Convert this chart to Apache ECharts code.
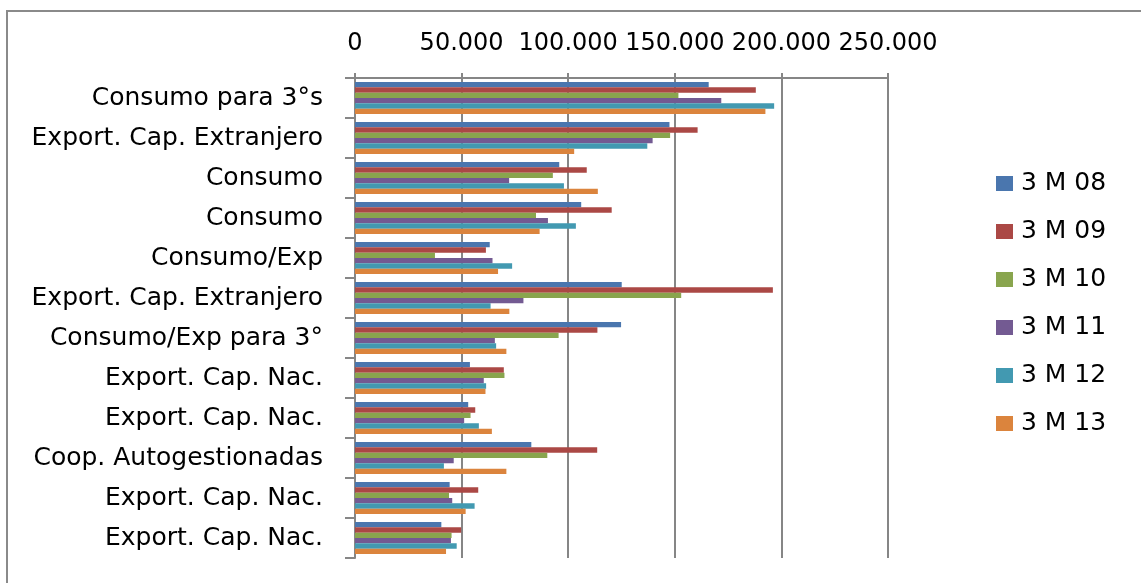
<!DOCTYPE html>
<html>
<head>
<meta charset="utf-8">
<script src="https://cdn.jsdelivr.net/npm/echarts@6/dist/echarts.min.js"></script>
<style>
html,body{margin:0;padding:0;background:#fff;}
#chart{width:1141px;height:583px;}
</style>
</head>
<body>
<div id="chart"></div>
<script>
const categories = [
  'Consumo para 3°s',
  'Export. Cap. Extranjero',
  'Consumo',
  'Consumo',
  'Consumo/Exp',
  'Export. Cap. Extranjero',
  'Consumo/Exp para 3°',
  'Export. Cap. Nac.',
  'Export. Cap. Nac.',
  'Coop. Autogestionadas',
  'Export. Cap. Nac.',
  'Export. Cap. Nac.'
];
const seriesNames = ['3 M 08', '3 M 09', '3 M 10', '3 M 11', '3 M 12', '3 M 13'];
const m08 = [165900, 147500, 95800, 106100, 63200, 125100, 124800, 53900, 53100, 82700, 44400, 40500];
const m09 = [188000, 160700, 108700, 120400, 61400, 196000, 113700, 69800, 56400, 113600, 57800, 49800];
const m10 = [151700, 147800, 92800, 84900, 37500, 153000, 95500, 70100, 54200, 90200, 44100, 45300];
const m11 = [171800, 139600, 72300, 90500, 64500, 79000, 65600, 60400, 51200, 46300, 45600, 45000];
const m12 = [196600, 137100, 98000, 103600, 73700, 63600, 66200, 61500, 58100, 41700, 56100, 47700];
const m13 = [192500, 102800, 113900, 86600, 67100, 72400, 71000, 61200, 64200, 71000, 51900, 42700];
const xTickLabels = ['0', '50.000', '100.000', '150.000', '200.000', '250.000'];
const colors = ['#4a76ae', '#ab4845', '#89a54e', '#735a92', '#4299b1', '#db843d'];

const seriesData = [m08, m09, m10, m11, m12, m13];
const FONT = 'DejaVu Sans';
const GRAY = '#868686';

const chart = echarts.init(document.getElementById('chart'), null, {renderer: 'canvas'});
chart.setOption({
  animation: false,
  backgroundColor: '#ffffff',
  color: colors,
  graphic: [{
    type: 'rect',
    shape: {x: 7, y: 11, width: 1300, height: 800},
    style: {fill: 'none', stroke: '#8a8a8a', lineWidth: 2},
    silent: true
  }],
  grid: {left: 355, right: 253, top: 78, bottom: 25, containLabel: false},
  legend: {
    orient: 'vertical',
    left: 991,
    top: 166,
    itemWidth: 17,
    itemHeight: 15,
    itemGap: 23,
    icon: 'rect',
    data: seriesNames,
    textStyle: {fontFamily: FONT, fontSize: 25, color: '#000', padding: [0, 0, 0, 3]}
  },
  xAxis: {
    type: 'value',
    position: 'top',
    min: 0,
    max: 250000,
    interval: 50000,
    axisLine: {show: true, lineStyle: {color: GRAY, width: 2}},
    axisTick: {show: true, length: 5, lineStyle: {color: GRAY, width: 2}},
    splitLine: {show: true, lineStyle: {color: GRAY, width: 2}},
    axisLabel: {
      margin: 22,
      hideOverlap: false,
      fontFamily: FONT,
      fontSize: 24,
      color: '#000',
      formatter: function (v) { return xTickLabels[Math.round(v / 50000)]; }
    }
  },
  yAxis: {
    type: 'category',
    inverse: true,
    data: categories,
    axisLine: {show: true, lineStyle: {color: GRAY, width: 2}},
    axisTick: {show: true, length: 10, lineStyle: {color: GRAY, width: 2}},
    splitLine: {show: false},
    axisLabel: {
      margin: 32,
      interval: 0,
      hideOverlap: false,
      fontFamily: FONT,
      fontSize: 25,
      color: '#000'
    }
  },
  series: seriesNames.map(function (name, i) {
    return {
      name: name,
      type: 'bar',
      data: seriesData[i],
      barGap: '0%',
      barCategoryGap: '20%',
      itemStyle: {color: colors[i]}
    };
  })
});
</script>
</body>
</html>
